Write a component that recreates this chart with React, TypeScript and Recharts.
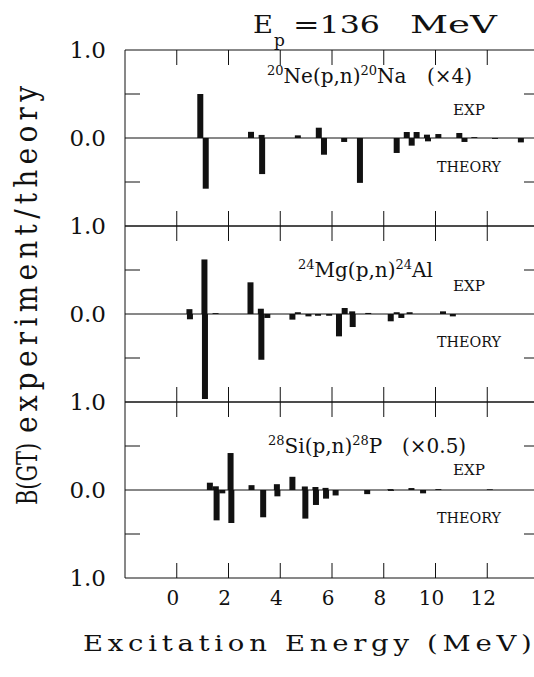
import React from "react";
import { ComposedChart, Bar, XAxis, YAxis, ReferenceLine } from "recharts";

const energyTicks = [0, 2, 4, 6, 8, 10, 12];
const sideTicks = [-0.5, 0.5];

// 20Ne(p,n)20Na (x4)
const neExpE = [0.91, 2.87, 3.28, 4.68, 5.49, 8.89, 9.27, 9.67, 10.11, 10.92, 11.5];
const neExpV = [0.5, 0.07, 0.035, 0.03, 0.117, 0.068, 0.068, 0.038, 0.045, 0.057, 0.01];
const neThE = [1.12, 3.3, 5.69, 6.47, 7.08, 8.5, 9.08, 9.71, 11.12, 12.3, 13.3];
const neThV = [-0.576, -0.41, -0.19, -0.045, -0.51, -0.17, -0.087, -0.038, -0.045, -0.01, -0.05];

// 24Mg(p,n)24Al
const mgExpE = [0.49, 1.07, 1.5, 2.85, 3.25, 4.68, 6.49, 6.78, 7.4, 8.5, 9.0, 10.29];
const mgExpV = [0.055, 0.62, 0.01, 0.36, 0.06, 0.02, 0.068, 0.03, 0.012, 0.02, 0.02, 0.03];
const mgThE = [0.51, 1.09, 3.27, 3.5, 4.47, 5.09, 5.46, 5.89, 6.27, 6.8, 8.27, 8.68, 10.67];
const mgThV = [-0.06, -0.966, -0.52, -0.045, -0.064, -0.027, -0.02, -0.02, -0.254, -0.148, -0.083, -0.045, -0.027];

// 28Si(p,n)28P (x0.5)
const siExpE = [1.28, 1.51, 2.08, 2.89, 3.87, 4.47, 4.95, 5.36, 5.75, 8.26, 9.07, 10.11, 12.1];
const siExpV = [0.083, 0.042, 0.42, 0.055, 0.066, 0.15, 0.04, 0.034, 0.024, 0.01, 0.022, 0.01, 0.008];
const siThE = [1.54, 1.76, 2.11, 3.34, 3.89, 4.97, 5.38, 5.77, 6.14, 7.36, 8.28, 9.52];
const siThV = [-0.345, -0.038, -0.375, -0.31, -0.072, -0.325, -0.17, -0.098, -0.062, -0.047, -0.01, -0.038];

const toBars = (expE: number[], expV: number[], thE: number[], thV: number[]) =>
  [
    ...expE.map((e, i) => ({ e, v: expV[i] })),
    ...thE.map((e, i) => ({ e, v: thV[i] })),
  ].sort((a, b) => a.e - b.e);

const FONT = "DejaVu Serif";
const INK = "#111";
const PLOT_LEFT = 125;
const PLOT_W = 414;
const PLOT_H = 176;
const CHART_W = 560;
const LABEL_W = 40;
const LABEL_H = 40;

// thin black stick centred on the energy the axis put it at
const Stick = (p: any) => {
  const cx = p.x + p.width / 2;
  const top = Math.min(p.y, p.y + p.height);
  return <rect x={cx - 3} y={top} width={6} height={Math.abs(p.height)} fill={INK} />;
};

// tick marks only, no text
const noText = () => <g />;

function Panel({ data, top, labels, showEnergy }: { data: any[]; top: number; labels: number[]; showEnergy?: boolean }) {
  const bottom = showEnergy ? 50 : 30;
  return (
    <div style={{ position: "absolute", left: 0, top: top - 30 }}>
      <ComposedChart
        width={CHART_W}
        height={30 + PLOT_H + bottom}
        data={data}
        margin={{
          top: 30,
          right: CHART_W - PLOT_LEFT - PLOT_W,
          bottom: showEnergy ? bottom - LABEL_H : bottom,
          left: PLOT_LEFT - LABEL_W,
        }}
      >
        <XAxis xAxisId="t" orientation="top" mirror dataKey="e" type="number" domain={[-2, 14]} allowDataOverflow
          ticks={energyTicks} interval={0} tickSize={15} tick={noText} stroke={INK} />
        <XAxis xAxisId="b" orientation="bottom" mirror dataKey="e" type="number" domain={[-2, 14]} allowDataOverflow
          ticks={energyTicks} interval={0} tickSize={15} tick={noText} stroke={INK} />
        {showEnergy && (
          <XAxis xAxisId="lab" orientation="bottom" dataKey="e" type="number" domain={[-2, 14]} allowDataOverflow
            ticks={energyTicks} interval={0} height={LABEL_H} axisLine={false} tickLine={false} tickSize={0} tickMargin={13}
            tick={{ fontSize: 20, fill: INK, fontFamily: FONT, dx: -4 }} />
        )}
        <YAxis yAxisId="y" orientation="left" mirror type="number" domain={[-1, 1]} allowDataOverflow
          ticks={sideTicks} interval={0} tickSize={15} tick={noText} stroke={INK} />
        <YAxis yAxisId="r" orientation="right" mirror type="number" domain={[-1, 1]} allowDataOverflow
          ticks={sideTicks} interval={0} tickSize={15} tick={noText} stroke={INK} />
        <YAxis yAxisId="lab" orientation="left" type="number" domain={[-1, 1]} allowDataOverflow
          ticks={labels} interval={0} width={LABEL_W} axisLine={false} tickLine={false} tickSize={0} tickMargin={19}
          tickFormatter={(v: number) => Math.abs(v).toFixed(1)}
          tick={{ fontSize: 23, fill: INK, fontFamily: FONT }} />
        <ReferenceLine xAxisId="b" yAxisId="y" y={0} stroke={INK} />
        <Bar xAxisId="b" yAxisId="y" dataKey="v" isAnimationActive={false} shape={Stick} />
      </ComposedChart>
    </div>
  );
}

function Reaction({ x, y, a, b, c, d, scale, scaleX }: any) {
  return (
    <>
      <text x={x} y={y} fontSize={20} fill={INK}>
        <tspan fontSize={13} dy={-8}>{a}</tspan>
        <tspan dy={8}>{b}</tspan>
        <tspan fontSize={13} dy={-8}>{c}</tspan>
        <tspan dy={8}>{d}</tspan>
      </text>
      {scale && (
        <text x={scaleX} y={y} fontSize={20} fill={INK}>{scale}</text>
      )}
    </>
  );
}

function Tags({ expY, thY }: { expY: number; thY: number }) {
  return (
    <>
      <text x={453} y={expY} fontSize={15} fill={INK} textLength={32} lengthAdjust="spacingAndGlyphs">EXP</text>
      <text x={437} y={thY} fontSize={15} fill={INK} textLength={64} lengthAdjust="spacingAndGlyphs">THEORY</text>
    </>
  );
}

export default function App() {
  return (
    <div style={{ position: "absolute", left: 0, top: 0, width: 534, height: 677, overflow: "hidden", background: "#fff", fontFamily: FONT }}>
      <Panel data={toBars(neExpE, neExpV, neThE, neThV)} top={50} labels={[1, 0, -1]} />
      <Panel data={toBars(mgExpE, mgExpV, mgThE, mgThV)} top={226} labels={[0, -1]} />
      <Panel data={toBars(siExpE, siExpV, siThE, siThV)} top={402} labels={[0, -1]} showEnergy />
      <svg width={534} height={677} style={{ position: "absolute", left: 0, top: 0, pointerEvents: "none" }} fontFamily={FONT}>
        <text x={253} y={33} fontSize={25} fill={INK} textLength={20} lengthAdjust="spacingAndGlyphs">E</text>
        <text x={274} y={46} fontSize={17} fill={INK}>p</text>
        <text x={293} y={33} fontSize={25} fill={INK} textLength={87} lengthAdjust="spacingAndGlyphs">=136</text>
        <text x={410} y={33} fontSize={25} fill={INK} textLength={87} lengthAdjust="spacingAndGlyphs">MeV</text>

        <Reaction x={267} y={83} a="20" b="Ne(p,n)" c="20" d="Na" scale="(×4)" scaleX={427} />
        <Tags expY={115} thY={172} />
        <Reaction x={298} y={277} a="24" b="Mg(p,n)" c="24" d="Al" />
        <Tags expY={291} thY={347} />
        <Reaction x={268} y={453} a="28" b="Si(p,n)" c="28" d="P" scale="(×0.5)" scaleX={402} />
        <Tags expY={475} thY={523} />

        <text transform="translate(37,505) rotate(-90) scale(1,1.15)" fontSize={24} fill={INK} textLength={62} lengthAdjust="spacingAndGlyphs">B(GT)</text>
        <text transform="translate(37,433) rotate(-90) scale(1,1.1)" fontSize={28} fill={INK} textLength={347}>experiment/theory</text>
        <text transform="translate(83,651) scale(1.25,1)" fontSize={22} fill={INK} textLength={359}>Excitation Energy (MeV)</text>
      </svg>
    </div>
  );
}
